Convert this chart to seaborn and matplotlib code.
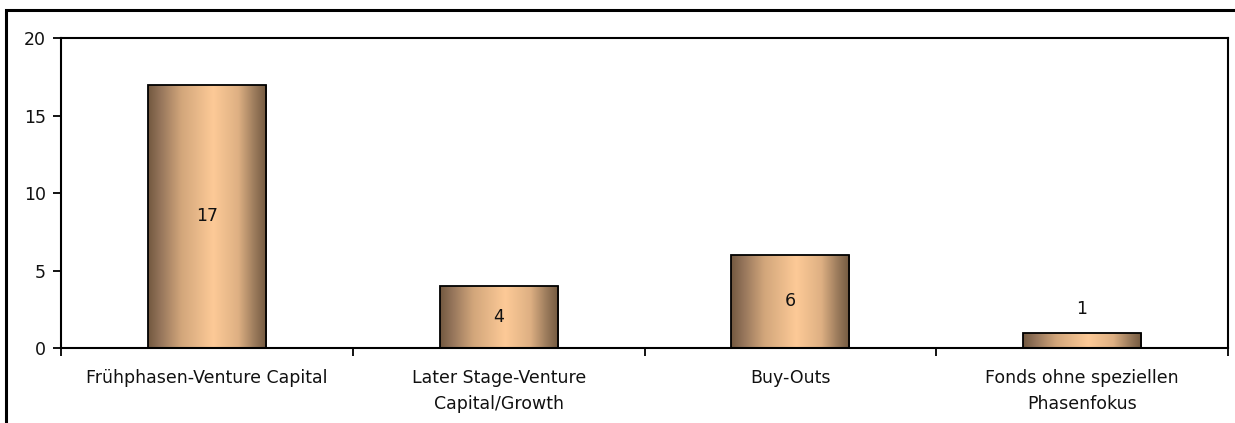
import numpy as np
import pandas as pd
import matplotlib
matplotlib.use("Agg")
import matplotlib.pyplot as plt
import seaborn as sns
from matplotlib.colors import LinearSegmentedColormap
from matplotlib.patches import Rectangle

# Number of funds by investment phase
categories = [
    "Frühphasen-Venture Capital",
    "Later Stage-Venture\nCapital/Growth",
    "Buy-Outs",
    "Fonds ohne speziellen\nPhasenfokus",
]
counts = [17, 4, 6, 1]
y_ticks = [0, 5, 10, 15, 20]

sns.set_theme(style="ticks")
plt.rcParams["font.family"] = ["DejaVu Sans"]

FS = 12.5
W, H = 1235, 423
fig = plt.figure(figsize=(W / 100, H / 100), dpi=100)
ax = fig.add_axes([61 / W, 1 - 348 / H, (1228 - 61) / W, (348 - 38) / H])

df = pd.DataFrame({"phase": categories, "n": counts})
sns.barplot(data=df, x="phase", y="n", ax=ax, width=0.405, color="#fdc996",
            saturation=1, edgecolor="black", linewidth=1.3, zorder=3)

# Metallic horizontal gradient inside every bar
bronze = LinearSegmentedColormap.from_list("bronze", [
    (0.00, "#72583f"), (0.10, "#94745a"), (0.28, "#d2a67b"),
    (0.55, "#fdca97"), (0.76, "#deb083"), (0.90, "#9a7a5b"), (1.00, "#72583f"),
])
grad = np.linspace(0, 1, 256).reshape(1, -1)
for patch in ax.patches:
    x0, w, h = patch.get_x(), patch.get_width(), patch.get_height()
    img = ax.imshow(grad, cmap=bronze, aspect="auto", extent=(x0, x0 + w, 0, h),
                    origin="lower", zorder=2, interpolation="bilinear")
    img.set_clip_path(patch)
    patch.set_facecolor("none")

ax.set_xlim(-0.5, len(categories) - 0.5)
ax.set_ylim(0, 20)
ax.set_yticks(y_ticks)
ax.set_yticklabels([str(t) for t in y_ticks], fontsize=FS)
ax.set_xticks(range(len(categories)))
ax.set_xticklabels(categories, fontsize=FS, linespacing=1.6)
ax.set_xticks(np.arange(-0.5, len(categories), 1.0), minor=True)
ax.tick_params(axis="x", which="major", length=0, pad=15, colors="#111111")
ax.tick_params(axis="x", which="minor", length=6, width=1.3, direction="out", color="black")
ax.tick_params(axis="y", length=6, width=1.3, direction="out", pad=5, colors="#111111")
ax.tick_params(axis="y", color="black")
ax.set_xlabel("")
ax.set_ylabel("")

for side in ["left", "bottom", "top", "right"]:
    ax.spines[side].set_visible(True)
    ax.spines[side].set_color("black")
    ax.spines[side].set_linewidth(1.5)

# Value labels: centred in the bar, above it when the bar is too short
for patch, v in zip(ax.patches, counts):
    cx = patch.get_x() + patch.get_width() / 2
    if v >= 2:
        ax.text(cx, v / 2, str(v), ha="center", va="center", fontsize=FS,
                color="#111111", zorder=4)
    else:
        ax.annotate(str(v), (cx, v), xytext=(0, 17), textcoords="offset points",
                    ha="center", va="center", fontsize=FS, color="#111111", zorder=4)

# Chart border
fig.patches.append(Rectangle((6 / W, -0.2), 1.2, (1 - 10 / H) + 0.2,
                             transform=fig.transFigure, fill=False,
                             edgecolor="black", linewidth=2.2))

fig.savefig("out.png", dpi=100, facecolor="white")
